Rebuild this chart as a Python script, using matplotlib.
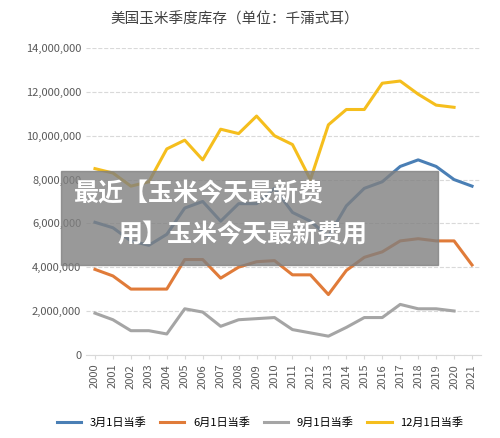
import matplotlib
matplotlib.use("Agg")
import matplotlib.pyplot as plt
from matplotlib.ticker import FuncFormatter
from matplotlib.patches import Rectangle

plt.rcParams['font.family'] = ['Noto Sans CJK SC', 'DejaVu Sans']

years = list(range(2000, 2022))
mar = [6.05, 5.8, 5.2, 5.0, 5.5, 6.7, 7.0, 6.1, 6.9, 6.9, 7.6, 6.5, 6.1, 5.4, 6.8, 7.6, 7.9, 8.6, 8.9, 8.6, 8.0, 7.7]
jun = [3.9, 3.6, 3.0, 3.0, 3.0, 4.35, 4.35, 3.5, 4.0, 4.25, 4.3, 3.65, 3.65, 2.75, 3.85, 4.45, 4.7, 5.2, 5.3, 5.2, 5.2, 4.1]
sep = [1.9, 1.6, 1.1, 1.1, 0.95, 2.1, 1.95, 1.3, 1.6, 1.65, 1.7, 1.15, 1.0, 0.85, 1.25, 1.7, 1.7, 2.3, 2.1, 2.1, 2.0]
dec = [8.5, 8.3, 7.7, 7.9, 9.4, 9.8, 8.9, 10.3, 10.1, 10.9, 10.0, 9.6, 8.0, 10.5, 11.2, 11.2, 12.4, 12.5, 11.9, 11.4, 11.3]
names = ['3月1日当季', '6月1日当季', '9月1日当季', '12月1日当季']
colors = ['#4a7fb5', '#e07b39', '#a5a5a5', '#f5be1d']

fig = plt.figure(figsize=(5.0, 4.38), dpi=100)
ax = fig.add_axes([0.172, 0.19, 0.79, 0.70])
for vals, n, c in zip([mar, jun, sep, dec], names, colors):
    ax.plot(years[:len(vals)], [v * 1e6 for v in vals], color=c, lw=2.2, label=n)

ax.set_ylim(0, 14e6)
ax.set_yticks([i * 2e6 for i in range(8)])
ax.yaxis.set_major_formatter(FuncFormatter(lambda v, p: f"{int(v):,}"))
ax.set_xlim(1999.5, 2021.5)
ax.set_xticks(years)
ax.set_xticklabels([str(y) for y in years], rotation=90, fontsize=8, color='#595959')
ax.tick_params(axis='y', labelsize=8, colors='#595959', length=0)
ax.tick_params(axis='x', length=3, color='#d9d9d9')
ax.grid(axis='y', ls='--', color='#d9d9d9', lw=0.8)
for s in ['top', 'right', 'left']:
    ax.spines[s].set_visible(False)
ax.spines['bottom'].set_color('#d9d9d9')

fig.text(0.47, 0.955, '美国玉米季度库存（单位：千蒲式耳）', ha='center', va='center', fontsize=10.5, color='#404040')
fig.legend(loc='lower center', ncol=4, frameon=False, fontsize=8, bbox_to_anchor=(0.52, 0.0), handlelength=2.2, columnspacing=1.2)

fig.patches.append(Rectangle((0.122, 0.395), 0.754, 0.215, transform=fig.transFigure, color='#808080', alpha=0.8, zorder=5))
fig.text(0.148, 0.555, '最近【玉米今天最新费', fontsize=18, fontweight='bold', color='white', va='center', zorder=6)
fig.text(0.235, 0.462, '用】玉米今天最新费用', fontsize=18, fontweight='bold', color='white', va='center', zorder=6)

fig.savefig('out.png', dpi=100, facecolor='white')
